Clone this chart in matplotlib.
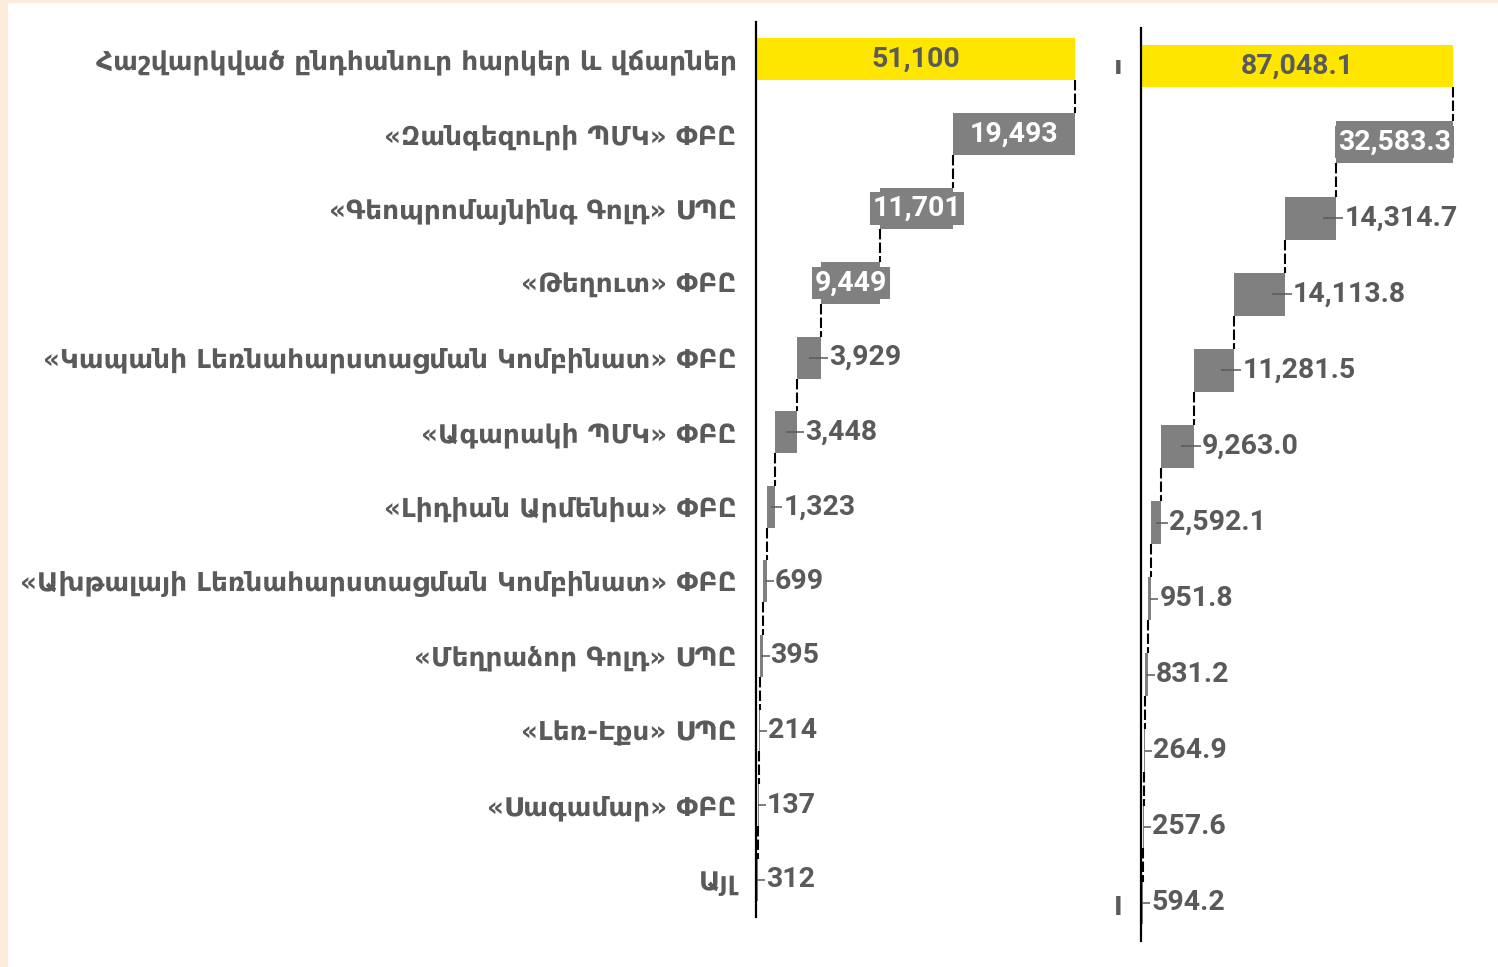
import matplotlib
matplotlib.use('Agg')
import matplotlib.pyplot as plt
from matplotlib.patches import Rectangle

# ---------------- data ----------------
categories = [
    "Հաշվարկված ընդհանուր հարկեր և վճարներ",
    "«Զանգեզուրի ՊՄԿ» ՓԲԸ",
    "«Գեոպրոմայնինգ Գոլդ» ՍՊԸ",
    "«Թեղուտ» ՓԲԸ",
    "«Կապանի Լեռնահարստացման Կոմբինատ» ՓԲԸ",
    "«Ագարակի ՊՄԿ» ՓԲԸ",
    "«Լիդիան Արմենիա» ՓԲԸ",
    "«Ախթալայի Լեռնահարստացման Կոմբինատ» ՓԲԸ",
    "«Մեղրաձոր Գոլդ» ՍՊԸ",
    "«Լեռ-Էքս» ՍՊԸ",
    "«Սագամար» ՓԲԸ",
    "Այլ",
]
left_values = [51100, 19493, 11701, 9449, 3929, 3448, 1323, 699, 395, 214, 137, 312]
right_values = [87048.1, 32583.3, 14314.7, 14113.8, 11281.5, 9263.0, 2592.1,
                951.8, 831.2, 264.9, 257.6, 594.2]

# ---------------- style ----------------
W, H = 1498, 967
YEL = '#FFE600'
GREY = '#808080'
TXT = '#5a5a5a'
NUMFONT = ['Roboto', 'DejaVu Sans']
CATFONT = ['DejaVu Sans', 'Noto Sans']
NUMSIZE = 20.5

fig = plt.figure(figsize=(W / 100, H / 100), dpi=100)
fig.patch.set_facecolor('#FDEBDC')
fig.add_artist(Rectangle((8 / W, 0), 1 - 8 / W, 1 - 3 / H, transform=fig.transFigure,
                         fc='white', ec='none', zorder=-10))


def axes_px(x0, y0, x1, y1):
    return fig.add_axes([x0 / W, 1 - y1 / H, (x1 - x0) / W, (y1 - y0) / H])


def waterfall(ax, vals, fmt, inside_n, width_px):
    total = vals[0]
    lefts, widths = [0], [total]
    rem = total
    for v in vals[1:]:
        lefts.append(rem - v)
        widths.append(v)
        rem -= v
    n = len(vals)
    ys = list(range(n))
    colors = [YEL] + [GREY] * (n - 1)
    bh = 0.56
    ax.barh(ys, widths, left=lefts, height=bh, color=colors, zorder=2)
    dpp = total / width_px
    # connectors
    for i in range(n - 1):
        x = lefts[i + 1] + widths[i + 1]
        ax.plot([x, x], [i + bh / 2, i + 1 - bh / 2], color='black', lw=1.5,
                ls=(0, (5, 1.5)), zorder=3, clip_on=False)
    # labels
    for i in range(n):
        l, w = lefts[i], widths[i]
        txt = fmt(vals[i])
        if i == 0:
            ax.text(l + w / 2, i, txt, ha='center', va='center', color=TXT,
                    fontsize=NUMSIZE, fontweight='bold', family=NUMFONT, zorder=4)
        elif i < inside_n:
            ax.text(l + w / 2, i, txt, ha='center', va='center', color='white',
                    fontsize=NUMSIZE, fontweight='bold', family=NUMFONT, zorder=4,
                    bbox=dict(boxstyle='square,pad=0.1', fc=GREY, ec='none'))
        else:
            r = l + w
            xs = max(l + w / 2, r - 13 * dpp)
            ax.plot([xs, r + 7 * dpp], [i, i], color=TXT, lw=1.1, zorder=4,
                    clip_on=False, solid_capstyle='butt')
            ax.text(r + 8 * dpp, i, txt, ha='left', va='center', color=TXT,
                    fontsize=NUMSIZE, fontweight='bold', family=NUMFONT, zorder=4)
    ax.set_xlim(0, total)
    ax.set_ylim(n - 0.5, -0.5)
    for s in ['top', 'right', 'bottom']:
        ax.spines[s].set_visible(False)
    ax.spines['left'].set_linewidth(1.6)
    ax.spines['left'].set_color('black')
    ax.set_xticks([])
    ax.set_facecolor('none')
    return ys


# left panel
axL = axes_px(756, 22, 1075, 917)
ys = waterfall(axL, left_values, lambda v: f"{v:,.0f}", 4, 1075 - 756)
axL.set_yticks(ys)
axL.set_yticklabels(categories, fontsize=19, fontweight='bold', color=TXT,
                    family=CATFONT)
axL.tick_params(axis='y', length=0, pad=14)

# right panel
axR = axes_px(1141, 28, 1453, 941)
ys = waterfall(axR, right_values, lambda v: f"{v:,.1f}", 2, 1453 - 1141)
axR.set_yticks([])

# clipped label fragments on the right panel
fig.text(1118 / W, 1 - 67 / H, "ı", ha='center', va='center', color=TXT,
         fontsize=18, fontweight='bold')
fig.text(1118 / W, 1 - 908 / H, "l", ha='center', va='center', color=TXT,
         fontsize=18, fontweight='bold')

fig.savefig('out.png', dpi=100, facecolor=fig.get_facecolor())
